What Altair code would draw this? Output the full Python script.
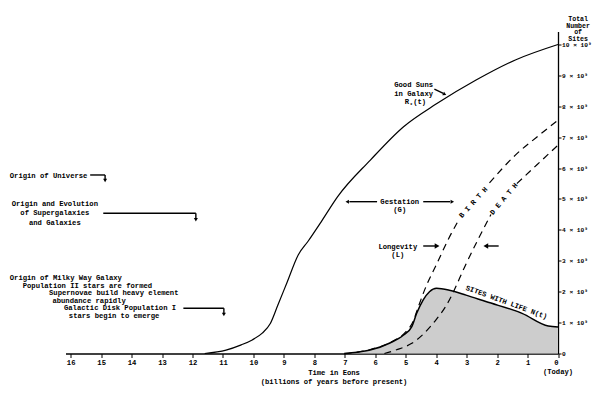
import altair as alt
import pandas as pd

# ---- curves (t = billions of years before present, v = number of sites in 1e9) ----
rs_t = [11.6, 10.9, 10.4, 10.04, 9.71, 9.44, 9.2, 8.9, 8.53, 8.2, 7.77, 7.24, 6.16, 5.07, 3.99, 2.69, 1.40, 0.0]
rs_v = [0.0, 0.11, 0.28, 0.44, 0.66, 0.98, 1.56, 2.29, 3.19, 3.64, 4.27, 5.07, 6.26, 7.34, 8.08, 8.85, 9.5, 10.0]

life_t = [7.02, 6.6, 6.17, 5.52, 5.07, 4.8, 4.64, 4.43, 4.22, 3.99, 3.57, 3.02, 2.37, 1.18, 0.32, 0.0]
life_v = [0.0, 0.04, 0.11, 0.34, 0.6, 0.87, 1.3, 1.73, 2.0, 2.11, 2.05, 1.89, 1.68, 1.3, 0.89, 0.86]

birth_t = [7.0, 6.2, 5.5, 5.0, 4.75, 4.59, 4.32, 3.99, 3.6, 3.3, 2.25, 1.4, 0.7, 0.0]
birth_v = [0.0, 0.12, 0.36, 0.7, 1.05, 1.5, 2.2, 2.88, 3.7, 4.25, 5.52, 6.42, 7.0, 7.55]
birth_seg = [0, 0, 0, 0, 0, 0, 0, 0, 0, 0, 1, 1, 1, 1]

death_t = [5.7, 5.3, 4.8, 4.43, 4.0, 3.67, 3.45, 3.08, 2.6, 2.2, 1.35, 0.7, 0.0]
death_v = [0.0, 0.12, 0.33, 0.62, 1.1, 1.55, 1.96, 2.77, 3.74, 4.5, 5.5, 6.1, 6.74]
death_seg = [0, 0, 0, 0, 0, 0, 0, 0, 0, 0, 1, 1, 1]

x_ticks = list(range(0, 17))
y_ticks = list(range(0, 11))

# ---- annotations (positions in data units) ----
left_labels = ["Origin of Universe", "Origin of Milky Way Galaxy", "Population II stars are formed",
               "Supernovae build heavy element", "abundance rapidly", "Galactic Disk Population I",
               "stars begin to emerge", "R", "(t)"]
left_t = [18.0, 18.0, 17.575, 16.71, 16.60, 16.22, 16.06, 5.032, 4.756]
left_v = [5.74, 2.443, 2.184, 1.948, 1.709, 1.463, 1.214, 8.139, 8.139]

mid_labels = ["Origin and Evolution", "of Supergalaxies", "and Galaxies", "Good Suns", "in Galaxy",
              "Gestation", "(G)", "Longevity", "(L)", "(Today)"]
mid_t = [16.52, 16.52, 16.52, 4.74, 4.74, 5.195, 5.195, 5.26, 5.26, 0.0]
mid_v = [4.84, 4.537, 4.233, 8.69, 8.398, 4.913, 4.644, 3.456, 3.178, -0.589]

title_labels = ["Total", "Number", "of", "Sites"]
title_t = [-0.66, -0.66, -0.66, -0.66]
title_v = [10.83, 10.61, 10.39, 10.17]

sub_labels = ["*"]
sub_t = [4.87]
sub_v = [8.05]

rule_t = [15.36, 14.87, 14.93, 11.89, 12.3, 10.97, 4.058, 5.94, 4.425, 4.425, 1.948]
rule_t2 = [14.87, 14.87, 11.89, 11.89, 10.97, 10.97, 3.766, 6.85, 3.54, 4.03, 2.31]
rule_v = [5.777, 5.777, 4.537, 4.537, 1.463, 1.463, 8.559, 4.913, 4.913, 3.479, 3.479]
rule_v2 = [5.777, 5.63, 4.537, 4.36, 1.463, 1.29, 8.414, 4.913, 4.913, 3.479, 3.479]

head_t = [14.87, 11.89, 10.97, 3.72, 6.92, 3.47]
head_v = [5.60, 4.33, 1.26, 8.39, 4.913, 4.913]
head_a = [180, 180, 180, 117, 270, 90]

bighead_t = [3.97, 2.37]
bighead_v = [3.479, 3.479]
bighead_a = [90, 270]

FONT = "Liberation Mono"
FS = 7.2

rs = pd.DataFrame({"t": rs_t, "v": rs_v})
life = pd.DataFrame({"t": life_t, "v": life_v})
birth = pd.DataFrame({"t": birth_t, "v": birth_v, "seg": birth_seg})
death = pd.DataFrame({"t": death_t, "v": death_v, "seg": death_seg})
left_df = pd.DataFrame({"label": left_labels, "t": left_t, "v": left_v})
mid_df = pd.DataFrame({"label": mid_labels, "t": mid_t, "v": mid_v})
title_df = pd.DataFrame({"label": title_labels, "t": title_t, "v": title_v})
sub_df = pd.DataFrame({"label": sub_labels, "t": sub_t, "v": sub_v})
rules_df = pd.DataFrame({"t": rule_t, "t2": rule_t2, "v": rule_v, "v2": rule_v2})
heads_df = pd.DataFrame({"t": head_t, "v": head_v, "a": head_a})
bigheads_df = pd.DataFrame({"t": bighead_t, "v": bighead_v, "a": bighead_a})

label_expr = ("datum.value == 0 ? '\u00a00' : (datum.value < 10 ? '\u00a0' : '') + "
              "datum.value + ' \u00d7 10\u2079'")

X = alt.X("t:Q",
          scale=alt.Scale(domain=[16.17, 0], nice=False, zero=False),
          axis=alt.Axis(values=x_ticks, format="d", tickSize=4, labelPadding=1,
                        title=["Time in Eons", "(billions of years before present)"],
                        titleX=268, titlePadding=3, titleLineHeight=9))
Y = alt.Y("v:Q",
          scale=alt.Scale(domain=[0, 10.42], nice=False),
          axis=alt.Axis(orient="right", values=y_ticks, labelExpr=label_expr, tickSize=3,
                        labelPadding=0.5, labelFontSize=6.2, title=None))

area = alt.Chart(life).mark_area(interpolate="monotone", color="#cdcdcd").encode(
    x=X, y=Y, y2=alt.datum(0))
life_line = alt.Chart(life).mark_line(interpolate="monotone", color="black", strokeWidth=1.5).encode(x=X, y=Y)
rs_line = alt.Chart(rs).mark_line(interpolate="monotone", color="black", strokeWidth=1.2).encode(x=X, y=Y)
birth_line = alt.Chart(birth).mark_line(interpolate="monotone", color="black", strokeWidth=1.2,
                                        strokeDash=[7, 5]).encode(x=X, y=Y, detail="seg:N")
death_line = alt.Chart(death).mark_line(interpolate="monotone", color="black", strokeWidth=1.2,
                                        strokeDash=[7, 5]).encode(x=X, y=Y, detail="seg:N")

rules = alt.Chart(rules_df).mark_rule(color="black", strokeWidth=1.4).encode(
    x=X, x2="t2:Q", y=Y, y2="v2:Q")
heads = alt.Chart(heads_df).mark_point(shape="triangle-up", filled=True, color="black", size=16,
                                       opacity=1).encode(
    x=X, y=Y, angle=alt.Angle("a:Q", scale=None))
bigheads = alt.Chart(bigheads_df).mark_point(shape="triangle-up", filled=True, color="black", size=30,
                                             opacity=1).encode(
    x=X, y=Y, angle=alt.Angle("a:Q", scale=None))

text_left = alt.Chart(left_df).mark_text(align="left", baseline="middle", font=FONT, fontSize=FS,
                                         fontWeight="bold", color="black").encode(
    x=X, y=Y, text="label:N")
text_mid = alt.Chart(mid_df).mark_text(align="center", baseline="middle", font=FONT, fontSize=FS,
                                       fontWeight="bold", color="black").encode(
    x=X, y=Y, text="label:N")
text_title = alt.Chart(title_df).mark_text(align="center", baseline="middle", font=FONT, fontSize=6.6,
                                           fontWeight="bold", color="black").encode(
    x=X, y=Y, text="label:N")
text_sub = alt.Chart(sub_df).mark_text(align="left", baseline="middle", font=FONT, fontSize=5,
                                       fontWeight="bold", color="black").encode(
    x=X, y=Y, text="label:N")

birth_lab = alt.Chart(pd.DataFrame({"label": ["B I R T H"], "t": [2.775], "v": [4.885]})).mark_text(
    align="center", baseline="middle", font=FONT, fontSize=FS, fontWeight="bold", angle=312,
    color="black").encode(x=X, y=Y, text="label:N")
death_lab = alt.Chart(pd.DataFrame({"label": ["D E A T H"], "t": [1.775], "v": [5.0]})).mark_text(
    align="center", baseline="middle", font=FONT, fontSize=FS, fontWeight="bold", angle=310,
    color="black").encode(x=X, y=Y, text="label:N")
life_lab = alt.Chart(pd.DataFrame({"label": ["SITES WITH LIFE N(t)"], "t": [1.69], "v": [1.65]})).mark_text(
    align="center", baseline="middle", font=FONT, fontSize=FS, fontWeight="bold", angle=20,
    color="black").encode(x=X, y=Y, text="label:N")

chart = alt.layer(
    area, rs_line, birth_line, death_line, life_line, rules, heads, bigheads,
    text_left, text_mid, text_title, text_sub, birth_lab, death_lab, life_lab
).properties(
    width=492.5, height=322,
    autosize=alt.AutoSizeParams(type="none"),
    padding={"left": 57.5, "top": 23.5, "right": 34, "bottom": 32.5},
    background="white",
).configure_view(stroke=None).configure_axis(
    grid=False, domainColor="black", domainWidth=1.3, tickColor="black", tickWidth=1,
    labelColor="black", labelFont=FONT, labelFontSize=FS, labelFontWeight="bold",
    titleColor="black", titleFont=FONT, titleFontSize=FS, titleFontWeight="bold",
)

chart.save("out.html", embed_options={"renderer": "svg", "actions": False})
